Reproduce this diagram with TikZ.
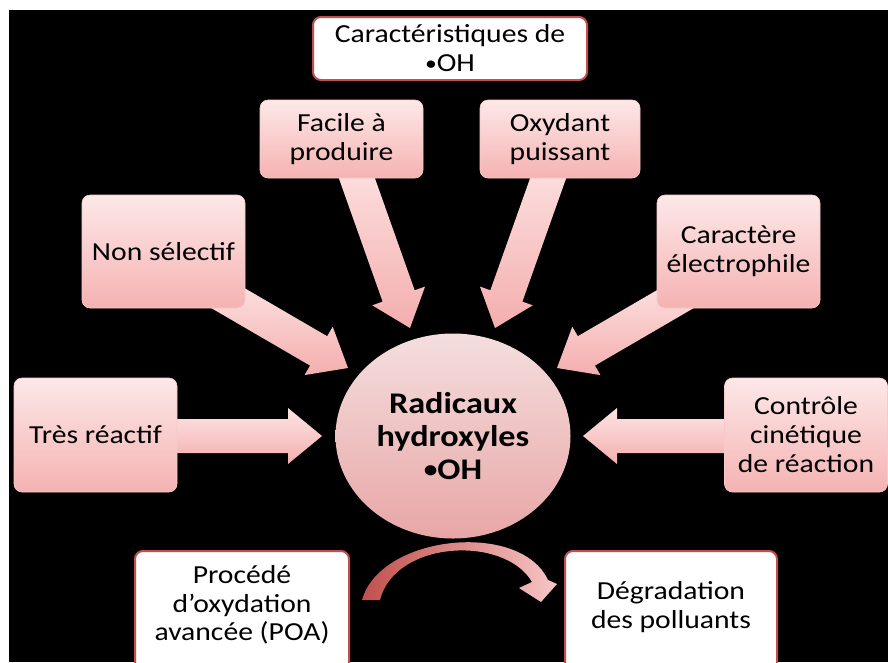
\documentclass[tikz,border=0pt]{standalone}
\usepackage{fontspec}
\setmainfont{Carlito}[FakeStretch=1.14]
\usetikzlibrary{calc,shapes.geometric}
\definecolor{pinkTop}{HTML}{FDE8E8}
\definecolor{pinkBot}{HTML}{F5B2B2}
\definecolor{circTop}{HTML}{F5DEDE}
\definecolor{circBot}{HTML}{E8A6A6}
\definecolor{redBorder}{HTML}{C0504D}
\definecolor{arrTop}{HTML}{FDE4E4}
\definecolor{arrBot}{HTML}{F4AEAE}
\newcommand{\smallbul}{\raisebox{0.06em}{\scalebox{0.8}{•}}}
\tikzset{
 pinkbox/.style={rectangle, rounded corners=8pt, top color=pinkTop, bottom color=pinkBot,
   draw=pinkBot!70!white, line width=0.6pt, inner sep=0pt, align=center,
   font=\fontsize{26}{29}\selectfont, text=black},
 whitebox/.style={rectangle, rounded corners=8pt, fill=white, draw=redBorder,
   line width=2pt, inner sep=0pt, align=center, font=\fontsize{26}{29}\selectfont, text=black},
 arrowshade/.style={top color=arrTop, bottom color=arrBot},
 curveshade/.style={left color=redBorder, right color=arrBot!70!white},
}
% block arrow: #1 prefix, #2 start, #3 tip
\newcommand{\blockarr}[3]{%
  \coordinate (#1b) at ($(#3)!34pt!(#2)$);
  \path[arrowshade] ($(#2)!17pt!90:(#3)$) -- ($(#1b)!17pt!-90:(#2)$) -- ($(#1b)!28pt!-90:(#2)$)
     -- (#3) -- ($(#1b)!28pt!90:(#2)$) -- ($(#1b)!17pt!90:(#2)$) -- ($(#2)!17pt!-90:(#3)$) -- cycle;
}
\begin{document}
\begin{tikzpicture}[x=1pt,y=-1pt]
\useasboundingbox (0,0) rectangle (888,662);
\clip (0,0) rectangle (888,662);
\fill[white] (0,0) rectangle (888,662);
\fill[black] (9,10) rectangle (888,662);

\node[whitebox, minimum width=274pt, minimum height=63pt] (top) at (450,48.5) {Caractéristiques de\\\smallbul OH};

\coordinate (t1) at (322,436);
\coordinate (t2) at (583,436);
\coordinate (t3) at (348,368);
\coordinate (s3) at (214,290);
\coordinate (t4) at (557,368);
\coordinate (s4) at (691,290);
\coordinate (t5) at (410,328);
\coordinate (s5) at (349,156);
\coordinate (t6) at (495,328);
\coordinate (s6) at (556,156);
\coordinate (s1) at (160,436);
\coordinate (s2) at (742,436);

\blockarr{a1}{s1}{t1}
\blockarr{a2}{s2}{t2}
\blockarr{a3}{s3}{t3}
\blockarr{a4}{s4}{t4}
\blockarr{a5}{s5}{t5}
\blockarr{a6}{s6}{t6}

\node[pinkbox, minimum width=163pt, minimum height=78pt] (facile) at (341.5,139) {Facile à\\produire};
\node[pinkbox, minimum width=160pt, minimum height=78pt] (oxyd) at (560,139) {Oxydant\\puissant};
\node[pinkbox, minimum width=163pt, minimum height=113pt] (nonsel) at (163.5,251.5) {Non sélectif};
\node[pinkbox, minimum width=163pt, minimum height=113pt] (carac) at (738.5,251.5) {Caractère\\électrophile};
\node[pinkbox, minimum width=163pt, minimum height=114pt] (tres) at (95.5,435) {Très réactif};
\node[pinkbox, minimum width=163pt, minimum height=114pt] (contr) at (806,435) {Contrôle\\cinétique\\de réaction};

\node[ellipse, minimum width=235pt, minimum height=205pt, inner sep=0pt, top color=circTop, bottom color=circBot,
   align=center, font=\fontsize{30}{33}\selectfont\bfseries] (rad) at (453,436) {Radicaux\\hydroxyles\\\smallbul OH};

\node[whitebox, minimum width=214pt, minimum height=130pt, anchor=north] (poa) at (242,550) {};
\node[font=\fontsize{26}{28.5}\selectfont, align=center] (poatxt) at (242,605) {Procédé\\d’oxydation\\avancée (POA)};
\node[whitebox, minimum width=212pt, minimum height=130pt, anchor=north] (degr) at (671,550) {};
\node[font=\fontsize{26}{28.5}\selectfont, align=center] (degrtxt) at (671,607) {Dégradation\\des polluants};

\coordinate (c1) at (362,600);
\coordinate (c2) at (548,580);
\coordinate (c3) at (557,584);
\coordinate (ctip) at (541,602);
\coordinate (c4) at (519,588);
\coordinate (c5) at (532,582);
\coordinate (c6) at (380,600);
\path[curveshade] (c1) .. controls (380,535) and (520,520) .. (c2) -- (c3) -- (ctip) -- (c4) -- (c5)
   .. controls (505,535) and (395,540) .. (c6) -- cycle;
\end{tikzpicture}
\end{document}
